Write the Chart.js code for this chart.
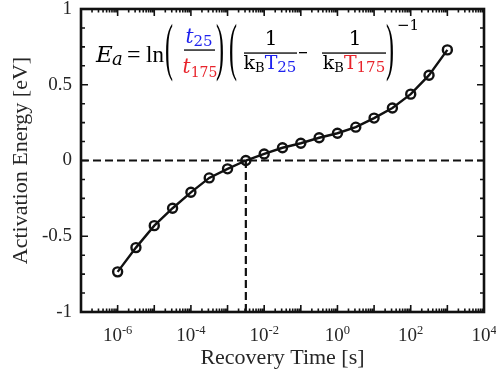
<!DOCTYPE html>
<html>
<head>
<meta charset="utf-8">
<script src="https://cdn.jsdelivr.net/npm/chart.js@4.4.0/dist/chart.umd.min.js"></script>
<style>
html, body { margin: 0; padding: 0; background: #fff; }
</style>
</head>
<body>
<canvas id="canvas_one" width="496" height="376"></canvas>
<script>
// Data
const recovery_time = [1e-6, 3.16e-6, 1e-5, 3.16e-5, 1e-4, 3.16e-4, 1e-3, 3.16e-3, 1e-2, 3.16e-2,
                       1e-1, 3.16e-1, 1, 3.16, 10, 31.6, 100, 316, 1000]
const activation_energy = [-0.735, -0.575, -0.43, -0.315, -0.21, -0.115, -0.055, 0, 0.043, 0.084,
                           0.114, 0.15, 0.18, 0.22, 0.28, 0.347, 0.438, 0.563, 0.73]

// dashed guide lines
const zero_line_x  = [1e-7, 1e4]
const zero_line_y  = [0, 0]
const cross_line_x = [3.16e-3, 3.16e-3]
const cross_line_y = [-1, 0]

// axes
const x_min = 1e-7
const x_max = 1e4
const x_label_exponents = [-6, -4, -2, 0, 2, 4]
const y_tick_values = [-1, -0.5, 0, 0.5, 1]
const y_tick_labels = ['-1', '-0.5', '0', '0.5', '1']
const y_minor_step = 0.125

const text_color = '#262626'
const blue = '#1e22ee'
const red  = '#e8232b'

function toPoints(xs, ys) {
    return xs.map((x, i) => ({ x: x, y: ys[i] }))
}

// Box with inward ticks on all four sides
const frame_plugin = {
    id: 'frame_plugin',
    afterDatasetsDraw(chart) {
        const ctx = chart.ctx
        const a = chart.chartArea
        const xs = chart.scales.x
        const ys = chart.scales.y
        ctx.save()
        ctx.strokeStyle = '#111'
        ctx.lineWidth = 1.6
        ctx.beginPath()
        for (let e = Math.log10(x_min); e < Math.log10(x_max); e++) {
            for (let m = 1; m < 10; m++) {
                const px = xs.getPixelForValue(m * Math.pow(10, e))
                const len = m === 1 ? 7 : 3.5
                ctx.moveTo(px, a.bottom); ctx.lineTo(px, a.bottom - len)
                ctx.moveTo(px, a.top);    ctx.lineTo(px, a.top + len)
            }
        }
        const n = Math.round(2 / y_minor_step)
        for (let k = 0; k <= n; k++) {
            const py = ys.getPixelForValue(-1 + k * y_minor_step)
            const len = k % 4 === 0 ? 7 : 4
            ctx.moveTo(a.left, py);  ctx.lineTo(a.left + len, py)
            ctx.moveTo(a.right, py); ctx.lineTo(a.right - len, py)
        }
        ctx.stroke()
        ctx.lineWidth = 2.6
        ctx.strokeRect(a.left, a.top, a.right - a.left, a.bottom - a.top)
        ctx.restore()
    }
}

// x tick labels as 10 with superscript exponent
const xlabel_plugin = {
    id: 'xlabel_plugin',
    afterDraw(chart) {
        const ctx = chart.ctx
        const xs = chart.scales.x
        ctx.save()
        ctx.fillStyle = text_color
        ctx.textBaseline = 'alphabetic'
        ctx.textAlign = 'left'
        x_label_exponents.forEach(e => {
            const px = xs.getPixelForValue(Math.pow(10, e))
            ctx.font = '19px "Liberation Serif"'
            const w1 = ctx.measureText('10').width
            ctx.font = '12.5px "Liberation Serif"'
            const w2 = ctx.measureText(String(e)).width
            const x0 = px - (w1 + w2) / 2
            ctx.font = '19px "Liberation Serif"'
            ctx.fillText('10', x0, 341)
            ctx.font = '12.5px "Liberation Serif"'
            ctx.fillText(String(e), x0 + w1, 334)
        })
        ctx.restore()
    }
}

// The formula inside the plot
const formula_plugin = {
    id: 'formula_plugin',
    afterDraw(chart) {
        const ctx = chart.ctx
        const MF = '"DejaVu Serif"'
        const RF = '"Liberation Serif"'
        ctx.save()
        ctx.textBaseline = 'alphabetic'
        ctx.textAlign = 'left'

        function put(text, x, y, font, color) {
            ctx.font = font
            ctx.fillStyle = color || '#000'
            ctx.fillText(text, x, y)
            return x + ctx.measureText(text).width
        }
        function width(parts) {
            let w = 0
            parts.forEach(p => { ctx.font = p[1]; w += ctx.measureText(p[0]).width })
            return w
        }
        function row(parts, cx, y) {
            let x = cx - width(parts) / 2
            parts.forEach(p => { x = put(p[0], x, y + (p[3] || 0), p[1], p[2]) })
        }
        function paren(ch, x, base) {
            ctx.save()
            ctx.translate(x, base)
            ctx.scale(1, 2.6)
            put(ch, 0, 0, '24px ' + RF, '#000')
            ctx.restore()
        }
        function bar(x1, x2, y) {
            ctx.fillStyle = '#000'
            ctx.fillRect(x1, y - 0.6, x2 - x1, 1.3)
        }

        put('E', 96, 62, 'italic 23px ' + MF)
        put('a', 112, 65, 'italic 18px ' + MF)
        put('=', 127, 62, '24px ' + RF)
        put('ln', 146, 62, '23px ' + RF)

        paren('(', 165, 68)
        row([['t', 'italic 20px ' + MF, blue], ['25', '15px ' + MF, blue, 3]], 199, 43)
        bar(184, 215, 50)
        row([['t', 'italic 20px ' + MF, red], ['175', '14px ' + MF, red, 4]], 200, 73)
        paren(')', 216, 68)

        paren('(', 229, 68)
        row([['1', '20px ' + MF, '#000']], 271, 45)
        bar(244, 297, 53)
        row([['k', '19px ' + MF, '#000'], ['B', '13px ' + MF, '#000', 3],
             ['T', '19px ' + MF, blue], ['25', '15px ' + MF, blue, 3]], 270, 69)

        ctx.fillStyle = '#000'
        ctx.fillRect(299, 52, 8, 1.3)

        row([['1', '20px ' + MF, '#000']], 355, 45)
        bar(322, 386, 53)
        row([['k', '19px ' + MF, '#000'], ['B', '13px ' + MF, '#000', 3],
             ['T', '19px ' + MF, red], ['175', '15px ' + MF, red, 3]], 354, 69)
        paren(')', 386, 68)

        put('\u22121', 397, 30, '15px ' + MF)
        ctx.restore()
    }
}

const ctx_one = document.getElementById('canvas_one').getContext('2d')

new Chart(ctx_one, {
    type: 'scatter',
    data: {
        datasets: [
            {
                data: toPoints(recovery_time, activation_energy),
                showLine: true,
                borderColor: '#111',
                borderWidth: 2.4,
                pointRadius: 4.5,
                pointBorderWidth: 2.4,
                pointBorderColor: '#111',
                pointBackgroundColor: 'rgba(0,0,0,0)',
                tension: 0
            },
            {
                data: toPoints(zero_line_x, zero_line_y),
                showLine: true,
                borderColor: '#111',
                borderWidth: 2.2,
                borderDash: [8, 4],
                pointRadius: 0
            },
            {
                data: toPoints(cross_line_x, cross_line_y),
                showLine: true,
                borderColor: '#111',
                borderWidth: 2.2,
                borderDash: [8, 4],
                pointRadius: 0
            }
        ]
    },
    options: {
        responsive: false,
        animation: false,
        devicePixelRatio: 1,
        layout: { padding: { left: 0, right: 12, top: 9, bottom: 0 } },
        plugins: {
            legend: { display: false },
            tooltip: { enabled: false }
        },
        scales: {
            x: {
                type: 'logarithmic',
                min: x_min,
                max: x_max,
                grid: { display: false, drawTicks: false },
                border: { display: false },
                ticks: { display: false },
                title: {
                    display: true,
                    text: 'Recovery Time [s]',
                    color: text_color,
                    font: { family: 'Liberation Serif', size: 22 },
                    padding: { top: 0, bottom: 5 }
                },
                afterFit: s => { s.height = 64; s.paddingLeft = 0; s.paddingRight = 0 }
            },
            y: {
                type: 'linear',
                min: -1,
                max: 1,
                grid: { display: false, drawTicks: false },
                border: { display: false },
                afterBuildTicks: s => { s.ticks = y_tick_values.map(v => ({ value: v })) },
                ticks: {
                    color: text_color,
                    padding: 9,
                    font: { family: 'Liberation Serif', size: 19 },
                    callback: (v, i) => y_tick_labels[y_tick_values.indexOf(v)]
                },
                title: {
                    display: true,
                    text: 'Activation Energy [eV]',
                    color: text_color,
                    font: { family: 'Liberation Serif', size: 22 },
                    padding: { top: 8, bottom: 0 }
                },
                afterFit: s => { s.width = 81; s.paddingTop = 0; s.paddingBottom = 0 }
            }
        }
    },
    plugins: [frame_plugin, xlabel_plugin, formula_plugin]
})
</script>
</body>
</html>
